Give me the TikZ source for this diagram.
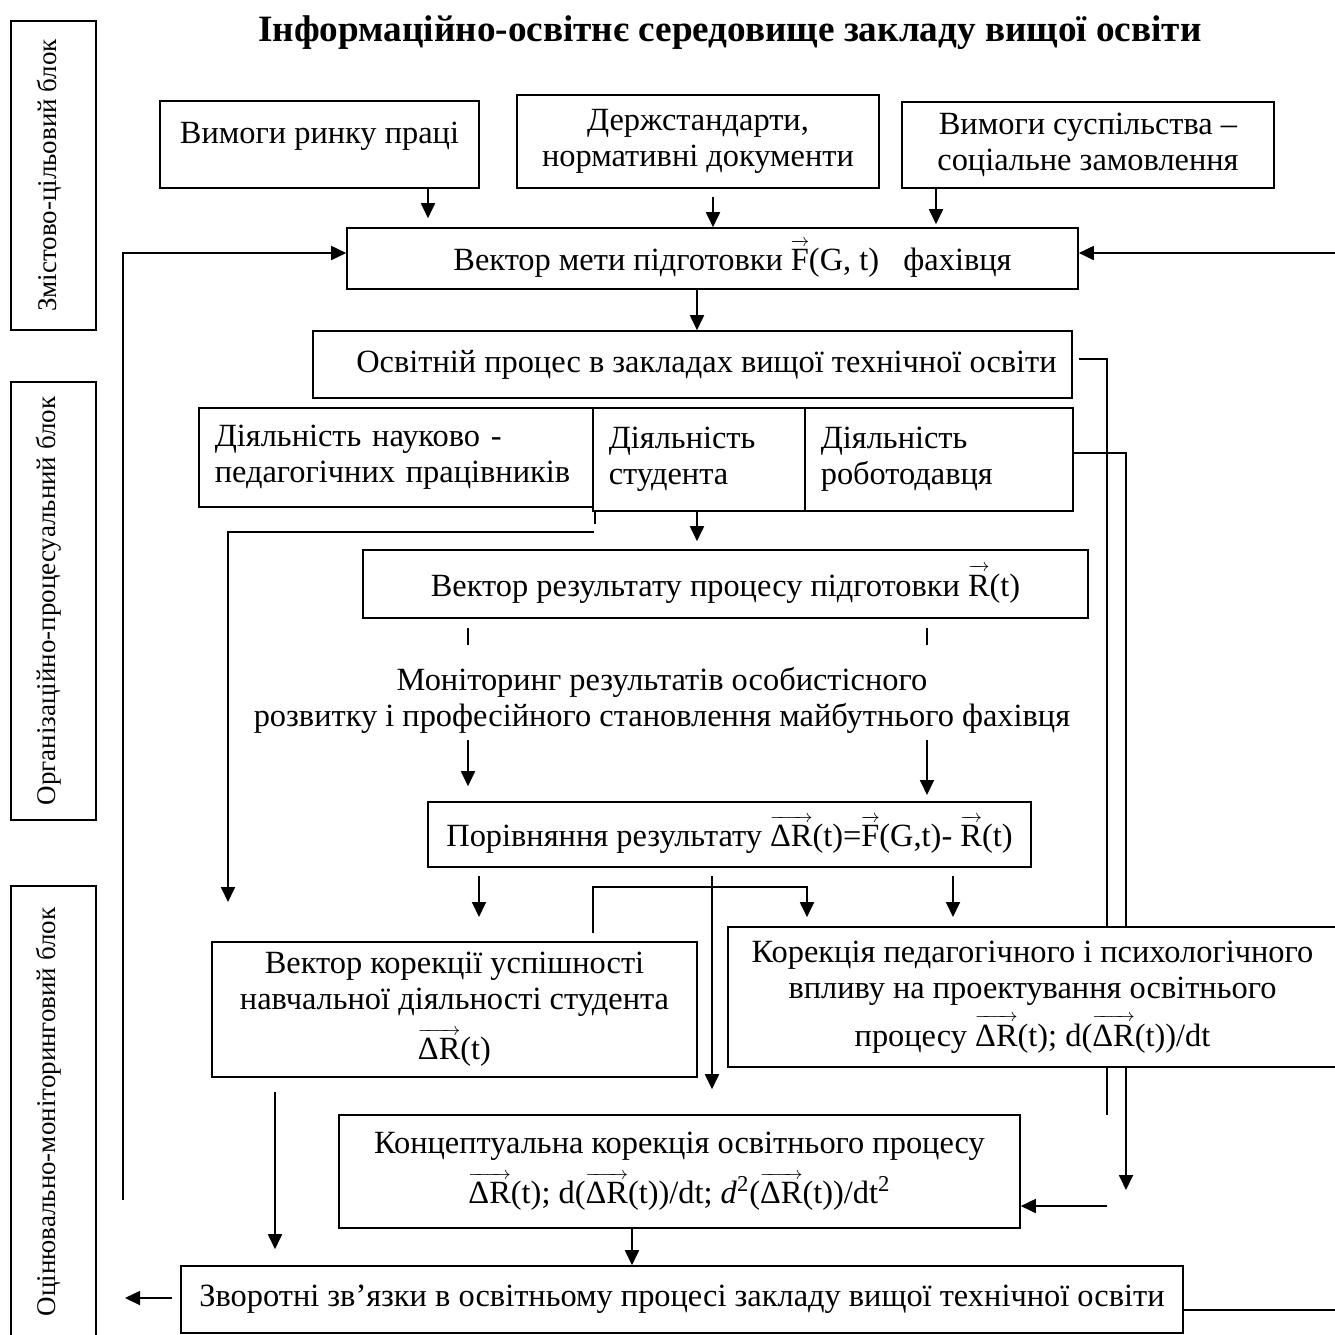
\documentclass[tikz,border=0pt]{standalone}
\usepackage{fontspec}
\setmainfont{Liberation Serif}
\usetikzlibrary{arrows.meta,calc}
\pgfdeclarelayer{back}
\pgfdeclarelayer{bg}
\pgfsetlayers{back,bg,main}
% a text with a thin arrow over it
\newsavebox\ovbox
\newcommand\ovec[1]{\sbox\ovbox{#1}\leavevmode
  \rlap{\raisebox{0.76em}{\hbox to \wd\ovbox{\fontsize{9}{9}\selectfont\rightarrowfill}}}\usebox\ovbox}
\newcommand\vR{\ovec{R}}
\newcommand\vF{\ovec{F}}
\newcommand\vdR{\ovec{ΔR}}
\begin{document}
\begin{tikzpicture}[x=0.5pt,y=-0.5pt,
  body/.style={font=\fontsize{16.2}{18}\selectfont},
  box/.style 2 args={draw,line width=0.8pt,fill=white,inner sep=0pt,align=center,body,
     minimum width=#1*0.5pt,minimum height=#2*0.5pt},
  cell/.style 2 args={draw,line width=0.8pt,fill=white,inner ysep=0pt,inner xsep=8pt,align=left,body,
     anchor=north west,text width=#1*0.5pt-16pt,minimum height=#2*0.5pt},
  sidetext/.style={rotate=90,font=\fontsize{13.5}{16}\selectfont},
  arr/.style={line width=0.9pt,-{Triangle[length=7.5pt,width=7pt]}},
  ln/.style={line width=0.9pt}]
\clip (0,0) rectangle (1335,1335);
\begin{pgfonlayer}{back}
\fill[white] (0,0) rectangle (1335,1335);
\end{pgfonlayer}

% title
\node[font=\fontsize{18.6}{22}\selectfont\bfseries] (title) at (730,33)
  {Інформаційно-освітнє середовище закладу вищої освіти};

% side blocks
\node[box={85}{309}] (L1) at (53.5,175.5) {};
\node[sidetext] (L1t) at (49,175.5) {Змістово-цільовий блок};
\node[box={85}{438}] (L2) at (53.5,601) {};
\node[sidetext] (L2t) at (49,601) {Організаційно-процесуальний блок};
\node[box={85}{459}] (L3) at (53.5,1115.5) {};
\node[sidetext] (L3t) at (49,1112) {Оцінювально-моніторинговий блок};

% inputs
\node[box={319}{87},text height=11pt,text depth=12.5pt] (B1) at (319.5,144.5) {Вимоги ринку праці};
\node[box={362}{93}] (B2) at (698,141.5) {Держстандарти,\\нормативні документи};
\node[box={372}{86}] (B3) at (1088,145) {Вимоги суспільства –\\соціальне замовлення};

% goal vector and process
\node[box={731}{61}] (V) at (712.5,258.5) {\hspace*{20pt}Вектор мети підготовки \vF(G, t)\ \ \ фахівця};
\node[box={759}{67}] (O) at (692.5,364.5) {\hspace*{14pt}Освітній процес в закладах вищої технічної освіти};

% activities
\node[cell={394}{99}] (D1) at (198,407)
  {\makebox[169pt][s]{Діяльність науково -}\\педагогічних працівників};
\node[cell={212}{103}] (D2) at (592,407) {Діяльність\\студента};
\node[cell={268}{103}] (D3) at (804,407) {Діяльність\\роботодавця};

% result
\node[box={725}{68}] (R) at (725.5,584) {Вектор результату процесу підготовки \vR(t)};
\node[body,align=center] (M) at (662,700)
  {Моніторинг результатів особистісного\\розвитку і професійного становлення майбутнього фахівця};
\node[box={603}{65}] (P) at (729.5,834.5) {Порівняння результату \vdR(t)=\vF(G,t)- \vR(t)};

% corrections
\node[box={485}{135}] (K1) at (454.5,1009.5)
  {Вектор корекції успішності\\навчальної діяльності студента\\[5pt]\vdR(t)};
\node[box={609}{140}] (K2) at (1032.5,997)
  {Корекція педагогічного і психологічного\\впливу на проектування освітнього\\[4pt]процесу \vdR(t); d(\vdR(t))/dt};
\node[box={681}{113}] (C) at (679.5,1171.5)
  {Концептуальна корекція освітнього процесу\\[5pt]\vdR(t); d(\vdR(t))/dt; \textit{d}\textsuperscript{2}(\vdR(t))/dt\textsuperscript{2}};
\node[box={1002}{67}] (Z) at (682,1299.5)
  {Зворотні зв’язки в освітньому процесі закладу вищої технічної освіти};

\begin{pgfonlayer}{bg}
% inputs to goal vector
\draw[arr,shorten >=4.5pt] (B1.south -| 428,0) -- (V.north -| 428,0);
\draw[arr,shorten <=4pt] (B2.south -| 713,0) -- (V.north -| 713,0);
\draw[arr,shorten >=1.5pt] (B3.south -| 936,0) -- (V.north -| 936,0);
\draw[arr] (V.south -| 697,0) -- (O.north -| 697,0);

% right-hand bypass lines
\draw[ln] ($(O.east)+(6,-5.5)$) -| (1107,1115);
\draw[arr] (D3.east |- 0,453) -| (1126,1190);
\coordinate (j) at (1107,1206);
\draw[arr] (j) -- (C.east |- j);

% activities to result and to the left
\draw[ln] ($(D1.south east)+(1,-4)$) -- ++(0,20);
\draw[arr] ($(D1.south east)+(0,24)$) -| (228,902);
\draw[arr,shorten >=4pt] ($(D2.south -| 697,0)+(0,-8)$) -- (R.north -| 697,0);

% monitoring
\draw[ln] ($(R.south -| 468,0)+(0,9)$) -- ++(0,17);
\draw[ln] ($(R.south -| 927,0)+(0,9)$) -- ++(0,17);
\draw[arr,shorten >=7.5pt] (468,740) -- (P.north -| 468,0);
\draw[arr] (927,740) -- (927,795);

% comparison outputs
\draw[arr] ($(P.south -| 479,0)+(0,8)$) -- (479,917);
\draw[arr] ($(P.south -| 953,0)+(0,8)$) -- (953,917);
\draw[arr,shorten >=12.5pt] ($(P.south -| 712,0)+(0,8)$) -- (C.north -| 712,0);
\draw[arr,shorten >=4.5pt] (593,933) |- (807,887) -- (K2.north -| 807,0);

% to feedback
\draw[arr,shorten >=8pt] (275,1092) -- (Z.north -| 275,0);
\draw[arr] (C.south -| 632,0) -- (Z.north -| 632,0);
\draw[arr] ($(Z.west)+(-8,-1.5)$) -- (125,1298);

% feedback loops to the goal vector
\draw[arr] (Z.east |- 0,1310) -| (1345,253) -- (V.east |- 0,253);
\draw[arr] (123,1200) |- (V.west |- 0,253);
\end{pgfonlayer}
\end{tikzpicture}
\end{document}
